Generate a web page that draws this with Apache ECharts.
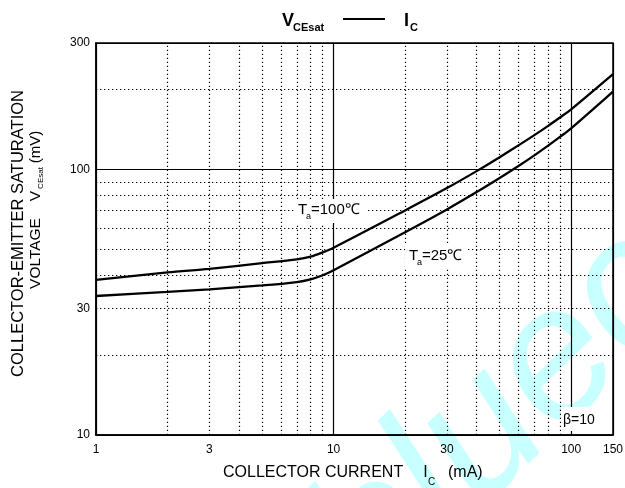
<!DOCTYPE html>
<html><head><meta charset="utf-8">
<script src="https://cdn.jsdelivr.net/npm/echarts@6/dist/echarts.min.js"></script>
<style>html,body{margin:0;padding:0;background:#fff}#c{width:625px;height:488px}</style>
</head><body><div id="c"></div>
<script>
// Collector current (mA)
const currentMA = [1, 2, 3, 5, 7, 8, 9, 10, 20, 30, 40, 50, 60, 70, 80, 90, 100, 150];
// VCEsat (mV) at Ta = 100 °C
const vce100 = [38.4, 41.0, 42.3, 44.4, 45.9, 47.0, 48.8, 50.8, 70.2, 85.2, 98.7, 111.4, 123.4, 134.9, 146.2, 157.5, 168.7, 229];
// VCEsat (mV) at Ta = 25 °C
const vce25 = [33.4, 34.6, 35.4, 36.6, 37.7, 38.6, 40.0, 41.8, 58.1, 70.8, 82.3, 93.0, 103.2, 113.2, 123.1, 133.1, 143, 196.6];
const xTickLabels = [1, 3, 10, 30, 100, 150];
const yTickLabels = [10, 30, 100, 300];
const xMinorGrid = [2, 3, 4, 5, 6, 7, 8, 9, 20, 30, 40, 50, 60, 70, 80, 90];
const yMinorGrid = [20, 30, 40, 50, 60, 70, 80, 90, 200];

const FONT = '"Liberation Sans", Arial, Helvetica, sans-serif';
const chart = echarts.init(document.getElementById('c'), null, {renderer: 'canvas'});

function txt(text, x, y, size, opts) {
  opts = opts || {};
  return {
    type: 'text', x: x, y: y, z: opts.z != null ? opts.z : 100,
    rotation: opts.rotation || 0,
    style: {
      text: text,
      font: (opts.weight || 'normal') + ' ' + size + 'px ' + FONT,
      fill: opts.fill || '#000',
      align: opts.align || 'left', textAlign: opts.align || 'left',
      verticalAlign: 'middle', textVerticalAlign: 'middle'
    }
  };
}
function whiteRect(x, y, w, h) {
  return {type: 'rect', z: 90, shape: {x: x, y: y, width: w, height: h}, style: {fill: '#fff'}};
}

const minorLines = xMinorGrid.map(v => ({xAxis: v})).concat(yMinorGrid.map(v => ({yAxis: v})));

const option = {
  backgroundColor: '#fff',
  animation: false,
  grid: {left: 96, right: 12, top: 43, bottom: 53, show: true, borderColor: '#000', borderWidth: 1.5, outerBoundsMode: 'none', containLabel: false},
  xAxis: {
    type: 'log', logBase: 10, min: 1, max: 150,
    axisLine: {show: true, lineStyle: {color: '#000', width: 1.5}},
    axisTick: {show: false},
    axisLabel: {customValues: xTickLabels, color: '#000', fontSize: 12, fontFamily: FONT, margin: 9},
    splitLine: {show: true, lineStyle: {color: '#000', width: 1.2, type: 'solid'}}
  },
  yAxis: {
    type: 'log', logBase: 10, min: 10, max: 300,
    axisLine: {show: true, lineStyle: {color: '#000', width: 1.5}},
    axisTick: {show: false},
    axisLabel: {customValues: yTickLabels, color: '#000', fontSize: 12, fontFamily: FONT, margin: 6},
    splitLine: {show: true, lineStyle: {color: '#000', width: 1.2, type: 'solid'}}
  },
  series: [
    {
      name: 'Ta=100', type: 'line', smooth: 0.3, symbol: 'none', z: 5,
      lineStyle: {color: '#000', width: 2.3},
      data: currentMA.map((x, i) => [x, vce100[i]]),
      markLine: {
        silent: true, symbol: ['none', 'none'], label: {show: false}, animation: false,
        lineStyle: {color: '#000', width: 1.2, type: [1.3, 2.7]},
        emphasis: {disabled: true},
        data: minorLines
      }
    },
    {
      name: 'Ta=25', type: 'line', smooth: 0.3, symbol: 'none', z: 5,
      lineStyle: {color: '#000', width: 2.3},
      data: currentMA.map((x, i) => [x, vce25[i]])
    }
  ],
  graphic: {elements: [
    // watermark
    {type: 'text', x: 340, y: 573, rotation: 0.768, z: -1,
     style: {text: 'bluec', font: 'italic normal 187px ' + FONT, fill: '#c8ffff',
             align: 'left', textAlign: 'left', verticalAlign: 'middle', textVerticalAlign: 'middle'}},
    // title
    txt('V', 288, 21.5, 18, {weight: 'bold', align: 'center'}),
    txt('CEsat', 293, 28, 11, {weight: 'bold'}),
    {type: 'line', z: 100, shape: {x1: 343, y1: 19, x2: 385, y2: 19}, style: {stroke: '#000', lineWidth: 2}},
    txt('I', 406.5, 21.5, 18, {weight: 'bold', align: 'center'}),
    txt('C', 410, 28, 11, {weight: 'bold'}),
    // x axis title
    txt('COLLECTOR CURRENT', 223, 473, 16),
    txt('I', 425.5, 473, 16, {align: 'center'}),
    txt('C', 428, 482, 10),
    txt('(mA)', 448, 473, 16),
    // y axis title
    txt('COLLECTOR-EMITTER SATURATION', 18, 233.5, 16.5, {align: 'center', rotation: Math.PI / 2}),
    txt('VOLTAGE', 36, 253.5, 15.5, {align: 'center', rotation: Math.PI / 2}),
    txt('V', 36, 196, 15.5, {align: 'center', rotation: Math.PI / 2}),
    txt('CEsat', 41, 178, 8, {align: 'center', rotation: Math.PI / 2}),
    txt('(mV)', 36, 147, 15, {align: 'center', rotation: Math.PI / 2}),
    // curve labels
    whiteRect(294, 199, 72, 24),
    txt('T', 298, 210, 15),
    txt('a', 306, 217, 9),
    txt('=100\u2103', 311, 210, 15),
    whiteRect(405, 245, 62, 24),
    txt('T', 409, 256, 15),
    txt('a', 417, 263, 9),
    txt('=25\u2103', 422, 256, 15),
    whiteRect(561, 407, 44, 24),
    txt('\u03b2=10', 563, 420, 14)
  ]}
};
chart.setOption(option);
</script>
</body></html>
